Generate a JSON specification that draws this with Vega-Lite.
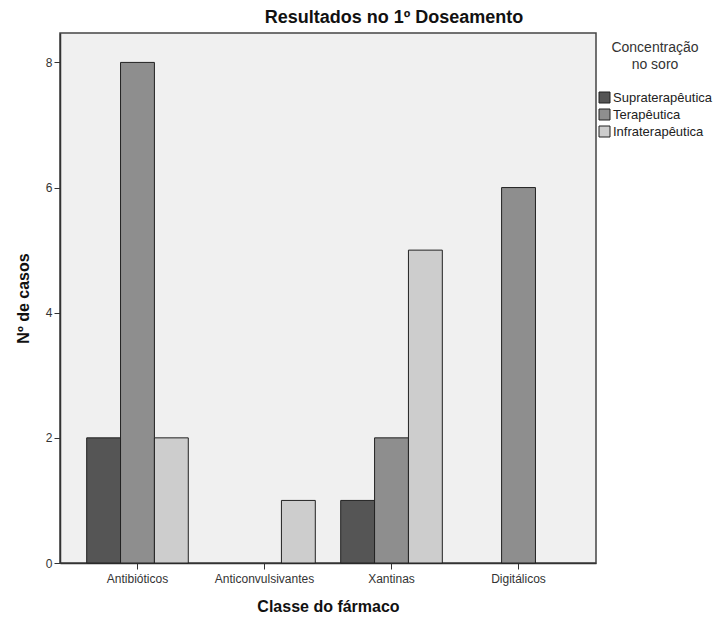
{
  "$schema": "https://vega.github.io/schema/vega-lite/v6.json",
  "width": 536,
  "height": 530,
  "autosize": {"type": "none"},
  "padding": {"left": 60, "top": 33, "right": 126, "bottom": 56},
  "background": "white",
  "config": {
    "font": "Liberation Sans",
    "view": {"fill": "#f0f0f0", "stroke": "#444444", "strokeWidth": 1.5}
  },
  "title": {
    "text": "Resultados no 1º Doseamento",
    "fontSize": 18,
    "fontWeight": "bold",
    "color": "#111111",
    "anchor": "middle",
    "dx": 66,
    "offset": 6
  },
  "data": {
    "values": [
      {"classe": "Antibióticos", "conc": "Supraterapêutica", "casos": 2},
      {"classe": "Antibióticos", "conc": "Terapêutica", "casos": 8},
      {"classe": "Antibióticos", "conc": "Infraterapêutica", "casos": 2},
      {"classe": "Anticonvulsivantes", "conc": "Infraterapêutica", "casos": 1},
      {"classe": "Xantinas", "conc": "Supraterapêutica", "casos": 1},
      {"classe": "Xantinas", "conc": "Terapêutica", "casos": 2},
      {"classe": "Xantinas", "conc": "Infraterapêutica", "casos": 5},
      {"classe": "Digitálicos", "conc": "Terapêutica", "casos": 6}
    ]
  },
  "mark": {"type": "bar", "stroke": "#222222", "strokeWidth": 1},
  "encoding": {
    "x": {
      "field": "classe",
      "type": "nominal",
      "sort": ["Antibióticos", "Anticonvulsivantes", "Xantinas", "Digitálicos"],
      "scale": {"paddingInner": 0.2, "paddingOuter": 0.21},
      "axis": {
        "title": "Classe do fármaco",
        "titleFontSize": 16,
        "titleFontWeight": "bold",
        "titleColor": "#111111",
        "titlePadding": 14,
        "labelAngle": 0,
        "labelFontSize": 12,
        "labelColor": "#333333",
        "labelPadding": 4,
        "tickSize": 6,
        "tickColor": "#333333",
        "domainColor": "#333333",
        "domainWidth": 1.5
      }
    },
    "xOffset": {
      "field": "conc",
      "type": "nominal",
      "sort": ["Supraterapêutica", "Terapêutica", "Infraterapêutica"],
      "scale": {"paddingInner": 0, "paddingOuter": 0}
    },
    "y": {
      "field": "casos",
      "type": "quantitative",
      "scale": {"domain": [0, 8.47], "nice": false},
      "axis": {
        "title": "Nº de casos",
        "titleFontSize": 16,
        "titleFontWeight": "bold",
        "titleColor": "#111111",
        "titlePadding": 14,
        "values": [0, 2, 4, 6, 8],
        "labelFontSize": 12,
        "labelColor": "#333333",
        "labelPadding": 2,
        "tickSize": 6,
        "tickColor": "#333333",
        "domainColor": "#333333",
        "domainWidth": 1.5,
        "grid": false
      }
    },
    "color": {
      "field": "conc",
      "type": "nominal",
      "sort": ["Supraterapêutica", "Terapêutica", "Infraterapêutica"],
      "scale": {
        "domain": ["Supraterapêutica", "Terapêutica", "Infraterapêutica"],
        "range": ["#555555", "#8e8e8e", "#cdcdcd"]
      },
      "legend": {
        "title": ["Concentração", "no soro"],
        "titleFontSize": 14,
        "titleFontWeight": "normal",
        "titleColor": "#333333",
        "titleAnchor": "middle",
        "titleAlign": "center",
        "titlePadding": 19,
        "titleLineHeight": 17,
        "orient": "none",
        "legendX": 538,
        "legendY": 8,
        "symbolType": "square",
        "symbolSize": 121,
        "symbolStrokeColor": "#222222",
        "symbolStrokeWidth": 1,
        "labelFontSize": 13,
        "labelColor": "#222222",
        "labelOffset": 2,
        "rowPadding": 2
      }
    }
  }
}
